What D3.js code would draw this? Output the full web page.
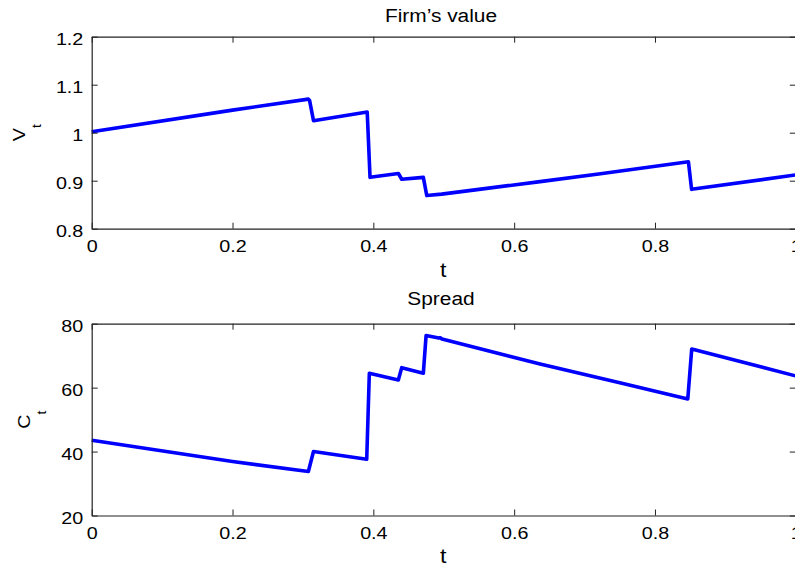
<!DOCTYPE html>
<html>
<head>
<meta charset="utf-8">
<script src="https://cdn.jsdelivr.net/npm/d3@7"></script>
<style>
  html, body { margin: 0; padding: 0; background: #fff; overflow: hidden; }
  svg { display: block; font-family: "Liberation Sans", Arial, Helvetica, sans-serif; }
</style>
</head>
<body>
<svg id="chart" width="795" height="567"></svg>
<script>
// ---- data ----
const xTicks = [0, 0.2, 0.4, 0.6, 0.8, 1];
const xTickLabels = ["0", "0.2", "0.4", "0.6", "0.8", "1"];

const vTicks = [0.8, 0.9, 1.0, 1.1, 1.2];
const vTickLabels = ["0.8", "0.9", "1", "1.1", "1.2"];

const cTicks = [20, 40, 60, 80];
const cTickLabels = ["20", "40", "60", "80"];

// Firm's value V_t
const tV = [0, 0.2, 0.3077, 0.3095, 0.3150, 0.3913, 0.3953, 0.4356, 0.4403, 0.4710, 0.4759, 0.4970, 0.5500, 0.6368, 0.7200, 0.8475, 0.8520, 1.0];
const valV = [1.002, 1.047, 1.070, 1.067, 1.025, 1.043, 0.907, 0.915, 0.903, 0.907, 0.869, 0.872, 0.882, 0.898, 0.914, 0.9396, 0.882, 0.912];

// Spread C_t
const tC = [0, 0.2, 0.3077, 0.3150, 0.3906, 0.3943, 0.4355, 0.4403, 0.4710, 0.4749, 0.4930, 0.4950, 0.4975, 0.6368, 0.7500, 0.8466, 0.8522, 1.0];
const valC = [43.56, 36.9, 33.75, 40.0, 37.6, 64.5, 62.4, 66.25, 64.5, 76.3, 75.5, 75.6, 75.2, 67.4, 61.5, 56.47, 72.1, 63.65];

const titles = ["Firm\u2019s value", "Spread"];
const yLabelMain = ["V", "C"];
const xLabel = "t";

// ---- layout ----
const svg = d3.select("#chart");
const L = 91.7, R = 795.8;
const panels = [
  { top: 36.7, bottom: 228.7, domain: [0.8, 1.2], ticks: vTicks, labels: vTickLabels, t: tV, v: valV,
    title: titles[0], titleY: 21.7, ylab: yLabelMain[0], ylabX: 25.3, subDy: 16, xlabY: 276.5 },
  { top: 323.7, bottom: 515.5, domain: [20, 80], ticks: cTicks, labels: cTickLabels, t: tC, v: valC,
    title: titles[1], titleY: 305.3, ylab: yLabelMain[1], ylabX: 30.2, subDy: 15.5, xlabY: 563.3 }
];

const SX = 1.16;      // horizontal stretch of the reference's type
const tickLen = 6;
const axisColor = "#222";

const x = d3.scaleLinear().domain([0, 1]).range([L, R]);

panels.forEach(p => {
  const y = d3.scaleLinear().domain(p.domain).range([p.bottom, p.top]);
  const g = svg.append("g");

  // data line
  const line = d3.line().x(d => x(d[0])).y(d => y(d[1]));
  g.append("path")
    .datum(p.t.map((t, i) => [t, p.v[i]]))
    .attr("d", line)
    .attr("fill", "none")
    .attr("stroke", "#0000ff")
    .attr("stroke-width", 3.6)
    .attr("stroke-linejoin", "round")
    .attr("stroke-linecap", "butt");

  // bottom axis
  const gb = g.append("g").attr("transform", `translate(0,${p.bottom})`)
    .call(d3.axisBottom(x).tickValues(xTicks).tickSize(-tickLen).tickSizeOuter(0)
      .tickFormat((d, i) => xTickLabels[i]));
  // top axis
  const gt = g.append("g").attr("transform", `translate(0,${p.top})`)
    .call(d3.axisTop(x).tickValues(xTicks).tickSize(-tickLen).tickSizeOuter(0).tickFormat(""));
  // left axis
  const gl = g.append("g").attr("transform", `translate(${L},0)`)
    .call(d3.axisLeft(y).tickValues(p.ticks).tickSize(-tickLen).tickSizeOuter(0)
      .tickFormat((d, i) => p.labels[i]));
  // right axis
  const gr = g.append("g").attr("transform", `translate(${R},0)`)
    .call(d3.axisRight(y).tickValues(p.ticks).tickSize(-tickLen).tickSizeOuter(0).tickFormat(""));

  [gb, gt, gl, gr].forEach(a => {
    a.select(".domain").attr("stroke", axisColor).attr("stroke-width", 1.2);
    a.selectAll(".tick line").attr("stroke", axisColor).attr("stroke-width", 1);
  });

  gb.selectAll(".tick text")
    .attr("fill", "#000").attr("font-size", 17)
    .attr("y", 0).attr("dy", null)
    .attr("transform", `translate(0,23) scale(${SX},1)`);
  gl.selectAll(".tick text")
    .attr("fill", "#000").attr("font-size", 17)
    .attr("x", 0).attr("dy", null).attr("y", 0)
    .attr("text-anchor", "end")
    .attr("transform", `translate(-8.4,8.2) scale(${SX},1)`);

  // title
  svg.append("text")
    .attr("transform", `translate(441,${p.titleY}) scale(${SX},1)`)
    .attr("text-anchor", "middle").attr("font-size", 18).attr("fill", "#000")
    .text(p.title);

  // x label
  svg.append("text")
    .attr("transform", `translate(${(L + R) / 2 - 0.5},${p.xlabY}) scale(${SX},1)`)
    .attr("text-anchor", "middle").attr("font-size", 20).attr("fill", "#000")
    .text(xLabel);

  // y label with subscript
  const mid = (p.top + p.bottom) / 2;
  const yl = svg.append("text")
    .attr("transform", `translate(${p.ylabX},${mid}) rotate(-90) scale(${SX},1)`)
    .attr("text-anchor", "middle").attr("font-size", 17).attr("fill", "#000");
  yl.append("tspan").text(p.ylab);
  yl.append("tspan").attr("dy", p.subDy).attr("font-size", 12).text(xLabel);
});
</script>
</body>
</html>
